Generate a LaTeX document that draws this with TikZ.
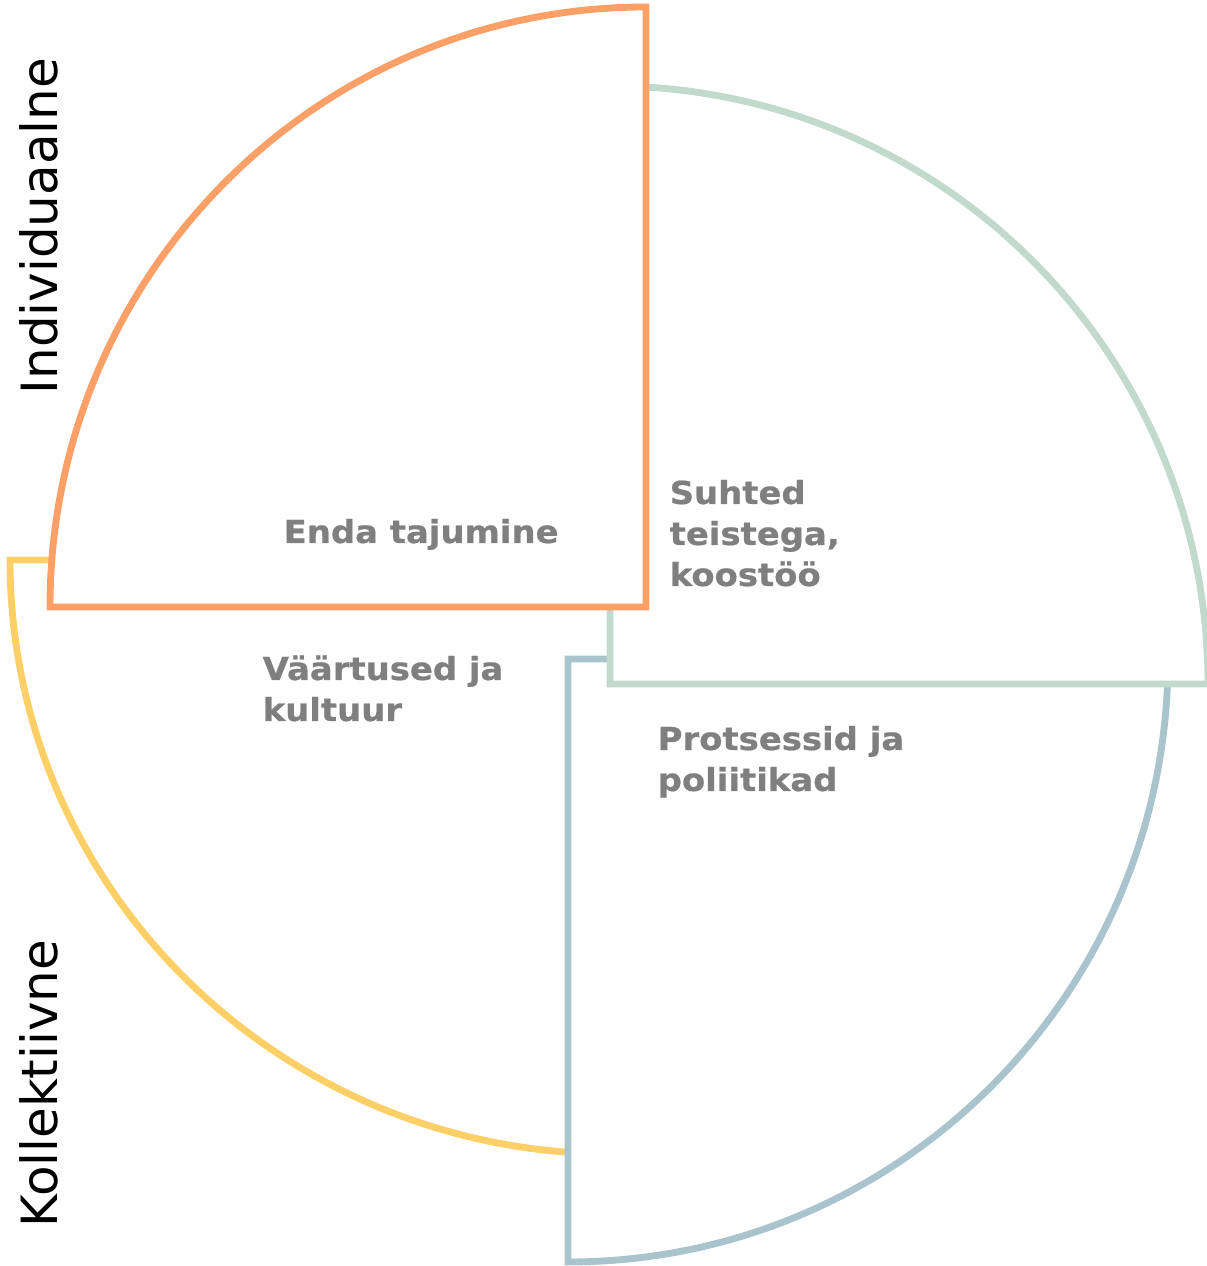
\documentclass[tikz,border=0pt]{standalone}
\usepackage{fontspec}
\setmainfont{DejaVu Sans}
\newfontfamily\boxfont[FakeStretch=1.07,BoldFeatures={FakeBold=0.6}]{DejaVu Sans}
\definecolor{orangeline}{HTML}{FCA068}
\definecolor{greenline}{HTML}{C2D9CE}
\definecolor{blueline}{HTML}{A9C4CD}
\definecolor{yellowline}{HTML}{FDCF67}
\definecolor{labelgrey}{HTML}{7F7F7F}
\begin{document}
\begin{tikzpicture}[x=0.01cm,y=0.01cm,
		sector/.style={line width=1.95pt,fill=white,line join=miter},
		lbl/.style={anchor=base west,inner sep=0pt,align=left,text=labelgrey,
			font=\boxfont\bfseries\fontsize{9}{11.66}\selectfont},
		side/.style={rotate=90,anchor=base west,inner sep=0pt,
			font=\fontsize{14.2}{17}\selectfont}]
	\useasboundingbox (0,0) rectangle (1207,1266);

	% quarters, back to front
	\draw[sector,draw=yellowline] (614,706) -- ++(0,-594)
		arc[start angle=270,end angle=180,x radius=604,y radius=594] -- cycle;
	\draw[sector,draw=blueline] (568,607) -- ++(600,0)
		arc[start angle=0,end angle=-90,x radius=600,y radius=603] -- cycle;
	\draw[sector,draw=greenline] (610,582) -- ++(0,598)
		arc[start angle=90,end angle=0,radius=598] -- cycle;
	\draw[sector,draw=orangeline] (646,659) -- ++(0,600)
		arc[start angle=90,end angle=180,x radius=596,y radius=600] -- cycle;

	% labels (anchored at the last line)
	\node[lbl] (self) at (283,723) {Enda tajumine};
	\node[lbl] (others) at (669,680) {Suhted\\teistega,\\koostöö};
	\node[lbl] (values) at (262,545) {Väärtused ja\\kultuur};
	\node[lbl] (process) at (657,475) {Protsessid ja\\poliitikad};

	\node[side] (indiv) at (58,871) {Individuaalne};
	\node[side] (coll) at (58,38) {Kollektiivne};
\end{tikzpicture}
\end{document}
